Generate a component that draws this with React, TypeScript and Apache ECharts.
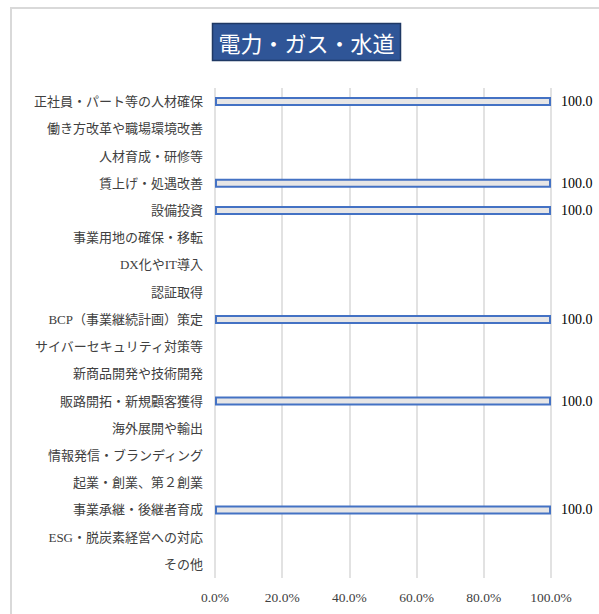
import React, { useEffect, useRef } from "react";
import * as echarts from "echarts";

const titleText = "電力・ガス・水道";
const categories = [
  "正社員・パート等の人材確保",
  "働き方改革や職場環境改善",
  "人材育成・研修等",
  "賃上げ・処遇改善",
  "設備投資",
  "事業用地の確保・移転",
  "DX化やIT導入",
  "認証取得",
  "BCP（事業継続計画）策定",
  "サイバーセキュリティ対策等",
  "新商品開発や技術開発",
  "販路開拓・新規顧客獲得",
  "海外展開や輸出",
  "情報発信・ブランディング",
  "起業・創業、第２創業",
  "事業承継・後継者育成",
  "ESG・脱炭素経営への対応",
  "その他",
];
const values = [100, 0, 0, 100, 100, 0, 0, 0, 100, 0, 0, 100, 0, 0, 0, 100, 0, 0];
const xTicks = [0, 20, 40, 60, 80, 100];

const FONT = "'Liberation Serif', 'Noto Sans CJK JP', serif";

export default function App() {
  const ref = useRef<HTMLDivElement>(null);
  useEffect(() => {
    if (!ref.current) return;
    const chart = echarts.init(ref.current, undefined, { renderer: "svg" });
    chart.setOption({
      animation: false,
      backgroundColor: "#ffffff",
      graphic: [
        {
          type: "rect",
          shape: { x: 11, y: 8, width: 700, height: 700 },
          style: { fill: "none", stroke: "#d9d9d9", lineWidth: 2 },
          silent: true,
        },
        {
          type: "rect",
          shape: { x: 212.5, y: 23.5, width: 188, height: 37 },
          style: { fill: "#2f5597", stroke: "#1f3864", lineWidth: 1.5 },
        },
        {
          type: "text",
          x: 306.5,
          y: 42,
          style: {
            text: titleText,
            fill: "#ffffff",
            font: "normal 22px 'Noto Sans CJK JP', sans-serif",
            align: "center",
            verticalAlign: "middle",
          },
        },
      ],
      grid: { left: 215, right: 48, top: 88, bottom: 36, containLabel: false },
      xAxis: {
        type: "value",
        min: 0,
        max: 100,
        interval: 20,
        axisLine: { show: false },
        axisTick: { show: false },
        splitLine: { show: true, lineStyle: { color: "#d9d9d9", width: 1.5 } },
        axisLabel: {
          margin: 13,
          color: "#404040",
          fontFamily: FONT,
          fontSize: 13.5,
          formatter: (v: number) => (xTicks.includes(v) ? v.toFixed(1) + "%" : ""),
        },
      },
      yAxis: {
        type: "category",
        inverse: true,
        data: categories,
        axisLine: { show: false },
        axisTick: { show: false },
        axisLabel: {
          margin: 12,
          color: "#404040",
          fontFamily: FONT,
          fontSize: 13,
        },
      },
      series: [
        {
          type: "bar",
          data: values.map((v) => ({
            value: v,
            itemStyle: { borderWidth: v ? 2 : 0 },
          })),
          barWidth: 9,
          itemStyle: { color: "#e7e6e6", borderColor: "#4472c4", borderWidth: 2 },
          label: {
            show: true,
            position: "right",
            distance: 10,
            color: "#000000",
            fontFamily: FONT,
            fontSize: 14,
            formatter: (p: any) => (p.value ? Number(p.value).toFixed(1) : ""),
          },
        },
      ],
    });
    return () => chart.dispose();
  }, []);
  return (
    <div
      ref={ref}
      style={{ position: "fixed", left: 0, top: 0, width: 599, height: 614 }}
    />
  );
}
